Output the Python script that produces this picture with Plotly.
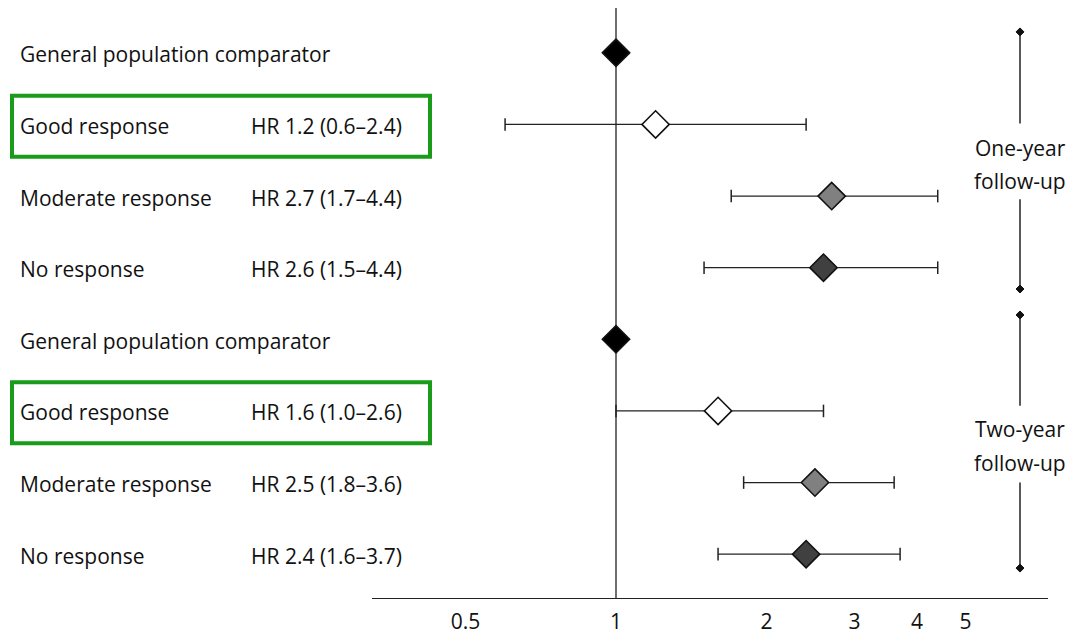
import math
import plotly.graph_objects as go

labels = ["General population comparator", "Good response", "Moderate response", "No response",
          "General population comparator", "Good response", "Moderate response", "No response"]
hr_text = ["", "HR 1.2 (0.6–2.4)", "HR 2.7 (1.7–4.4)", "HR 2.6 (1.5–4.4)",
           "", "HR 1.6 (1.0–2.6)", "HR 2.5 (1.8–3.6)", "HR 2.4 (1.6–3.7)"]
hr = [1.0, 1.2, 2.7, 2.6, 1.0, 1.6, 2.5, 2.4]
lo = [None, 0.6, 1.7, 1.5, None, 1.0, 1.8, 1.6]
hi = [None, 2.4, 4.4, 4.4, None, 2.6, 3.6, 3.7]
fills = ["#000000", "#ffffff", "#808080", "#404040", "#000000", "#ffffff", "#808080", "#404040"]
highlight_rows = [1, 5]
period_labels = [["One-year", "follow-up"], ["Two-year", "follow-up"]]
tick_vals = [0.5, 1, 2, 3, 4, 5]
tick_text = ["0.5", "1", "2", "3", "4", "5"]

W, H = 1072, 635
ML, MR, MT, MB = 372, 24, 0, 35
PW = W - ML - MR
rows = list(range(len(hr)))
y_top, y_bot = -0.7375, 7.612

def px_to_paper_x(px):
    return (px - ML) / PW

def px_to_row(py):
    return y_top + (py - MT) / (H - MT - MB) * (y_bot - y_top)

FONT = "Open Sans"
FS = 21
TEXT_SHIFT = px_to_row(1.5) - px_to_row(0)
fig = go.Figure()

# error bars (drawn as lines with caps)
for i in rows:
    if lo[i] is None:
        continue
    fig.add_trace(go.Scatter(x=[lo[i], hi[i]], y=[i, i], mode="lines+markers",
                             line=dict(color="#222222", width=1.3),
                             marker=dict(symbol="line-ns", size=9, line=dict(width=1.5, color="#222222")),
                             hoverinfo="skip", showlegend=False))

fig.add_trace(go.Scatter(x=hr, y=rows, mode="markers",
                         marker=dict(symbol="diamond", size=21, color=fills,
                                     line=dict(color="#111111", width=1.6)),
                         showlegend=False))

shapes = []
# reference line at HR=1
shapes.append(dict(type="line", xref="x", yref="y", x0=1, x1=1, y0=px_to_row(8), y1=y_bot,
                   line=dict(color="#222222", width=1.3), layer="below"))
# green boxes
for r in highlight_rows:
    shapes.append(dict(type="rect", xref="paper", yref="y",
                       x0=px_to_paper_x(12), x1=px_to_paper_x(430),
                       y0=r - 0.40, y1=r + 0.45,
                       line=dict(color="#1a9b1a", width=4)))

annotations = []
for i in rows:
    annotations.append(dict(text=labels[i], xref="paper", yref="y", x=px_to_paper_x(18), y=i + TEXT_SHIFT,
                            xanchor="left", yanchor="middle", showarrow=False,
                            font=dict(family=FONT, size=FS, color="#111111")))
    if hr_text[i]:
        annotations.append(dict(text=hr_text[i], xref="paper", yref="y", x=px_to_paper_x(249),
                                y=i + TEXT_SHIFT,
                                xanchor="left", yanchor="middle", showarrow=False,
                                font=dict(family=FONT, size=FS, color="#111111")))

# follow-up brackets
bx = px_to_paper_x(1020)
brackets = [(32, 124, 200, 290, (148, 182)), (316, 407, 484, 570, (430, 465))]
for (a, b, c, d, tys), lab in zip(brackets, period_labels):
    for y0, y1 in [(a, b), (c, d)]:
        shapes.append(dict(type="line", xref="paper", yref="y", x0=bx, x1=bx,
                           y0=px_to_row(y0), y1=px_to_row(y1),
                           line=dict(color="#222222", width=1.5)))
    for yy in [a, d]:
        dx = 4 / PW
        dy = px_to_row(yy + 4) - px_to_row(yy)
        yc = px_to_row(yy)
        shapes.append(dict(type="path", xref="paper", yref="y",
                           path=f"M {bx-dx} {yc} L {bx} {yc-dy} L {bx+dx} {yc} L {bx} {yc+dy} Z",
                           fillcolor="#111111", line=dict(color="#111111", width=1)))
    for txt, ty in zip(lab, tys):
        annotations.append(dict(text=txt, xref="paper", yref="y", x=bx, y=px_to_row(ty),
                                xanchor="center", yanchor="middle", showarrow=False,
                                font=dict(family=FONT, size=FS, color="#111111")))

x_lo = 10 ** ((ML - 616) / 500)
x_hi = 10 ** ((W - MR - 616) / 500)
fig.update_layout(
    width=W, height=H, margin=dict(l=ML, r=MR, t=MT, b=MB),
    paper_bgcolor="white", plot_bgcolor="white",
    shapes=shapes, annotations=annotations,
    xaxis=dict(type="log", range=[math.log10(x_lo), math.log10(x_hi)],
               tickvals=tick_vals, ticktext=tick_text, showgrid=False, zeroline=False,
               showline=True, linecolor="#222222", linewidth=1.3, ticks="outside",
               ticklen=5, tickcolor="rgba(0,0,0,0)",
               tickfont=dict(family=FONT, size=FS, color="#111111"), fixedrange=True),
    yaxis=dict(range=[y_bot, y_top], showgrid=False, zeroline=False, showticklabels=False,
               showline=False, fixedrange=True),
)
fig.write_html("out.html")
